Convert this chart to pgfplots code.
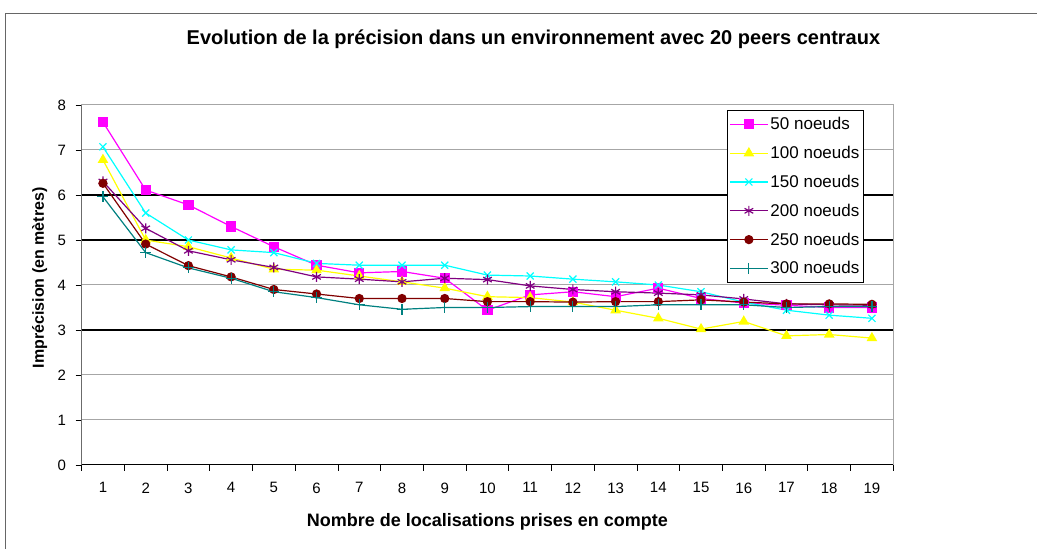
\documentclass[border=0pt]{standalone}
\usepackage{pgfplots}
\pgfplotsset{compat=1.18}
\usepackage{fontspec}
\setmainfont{Liberation Sans}
\definecolor{cmag}{HTML}{FF00FF}
\definecolor{cyel}{HTML}{FFFF00}
\definecolor{ccya}{HTML}{00FFFF}
\definecolor{cpur}{HTML}{800080}
\definecolor{cred}{HTML}{800000}
\definecolor{ctea}{HTML}{008080}
\begin{document}
\begin{tikzpicture}
\useasboundingbox (0pt,0pt) rectangle (1037pt,549pt);
\draw[line width=1pt, gray!80!black] (5pt,0pt) -- (5pt,535pt) -- (1037pt,535pt);
\begin{axis}[
  at={(81.6pt,84pt)}, anchor=south west,
  x=42.72pt, y=45pt,
  xmin=0.5, xmax=19.5, ymin=0, ymax=8,
  xtick={1,...,19},
  xtick style={draw=none},
  extra x ticks={0.5,1.5,...,19.5},
  extra x tick labels={},
  extra x tick style={xtick style={draw=black, line width=0.8pt}, major tick length=6pt, grid=none},
  ytick={0,1,...,8},
  ytick style={draw=black, line width=0.8pt},
  tick align=outside,
  tick pos=left,
  major tick length=6pt,
  ymajorgrids,
  grid style={gray!70, line width=1pt},
  axis line style={draw=gray!70, line width=1pt},
  tick label style={font=\fontsize{15}{18}\selectfont},
  xticklabel style={yshift=-8pt},
  yticklabel style={xshift=-6pt},
  /pgf/number format/assume math mode=true,
  title={Evolution de la précision dans un environnement avec 20 peers centraux},
  title style={font=\bfseries\fontsize{20}{24}\selectfont, at={(axis description cs:0.5,1)}, anchor=center, xshift=46pt, yshift=60pt},
  xlabel={Nombre de localisations prises en compte},
  xlabel style={font=\bfseries\fontsize{18}{21}\selectfont, at={(axis description cs:0.5,0)}, anchor=center, yshift=-57pt},
  ylabel={Imprécision (en mètres)},
  ylabel style={font=\bfseries\fontsize{16}{19}\selectfont, at={(axis description cs:-0.0517,0.52)}, anchor=center, rotate=0},
  legend style={at={(rel axis cs:0.795,0.986)}, anchor=north west, draw=black, line width=0.8pt, fill=white,
    font=\fontsize{17}{20}\selectfont, row sep=11pt, inner xsep=2pt, inner ysep=5pt, legend cell align=left},
  legend image code/.code={\draw[line width=1.2pt, mark repeat=2,mark phase=2,#1] plot coordinates {(0pt,0pt) (19pt,0pt) (38pt,0pt)};},
  every axis plot/.append style={line width=1.2pt},
]
\draw[black, line width=1.4pt] (axis cs:0.5,6) -- (axis cs:19.5,6);
\draw[black, line width=1.4pt] (axis cs:0.5,5) -- (axis cs:19.5,5);
\draw[black, line width=1.4pt] (axis cs:0.5,3) -- (axis cs:19.5,3);
\addplot[color=cmag, mark=square*, mark size=4.5pt, mark options={solid, fill=cmag}] coordinates {
(1,7.62) (2,6.11) (3,5.78) (4,5.30) (5,4.85) (6,4.44) (7,4.27) (8,4.30) (9,4.15) (10,3.44)
(11,3.78) (12,3.85) (13,3.74) (14,3.93) (15,3.70) (16,3.60) (17,3.55) (18,3.50) (19,3.50)};
\addlegendentry{50 noeuds}
\addplot[color=cyel, mark=triangle*, mark size=5pt, mark options={solid, fill=cyel}] coordinates {
(1,6.78) (2,5.00) (3,4.85) (4,4.60) (5,4.35) (6,4.33) (7,4.20) (8,4.07) (9,3.93) (10,3.74)
(11,3.72) (12,3.62) (13,3.44) (14,3.26) (15,3.02) (16,3.19) (17,2.87) (18,2.90) (19,2.82)};
\addlegendentry{100 noeuds}
\addplot[color=ccya, mark=x, mark size=5pt, mark options={solid}] coordinates {
(1,7.07) (2,5.60) (3,5.00) (4,4.78) (5,4.72) (6,4.48) (7,4.44) (8,4.44) (9,4.44) (10,4.22)
(11,4.20) (12,4.13) (13,4.07) (14,4.00) (15,3.85) (16,3.62) (17,3.44) (18,3.33) (19,3.26)};
\addlegendentry{150 noeuds}
\addplot[color=cpur, mark=asterisk, mark size=5pt, mark options={solid}] coordinates {
(1,6.30) (2,5.26) (3,4.76) (4,4.56) (5,4.39) (6,4.18) (7,4.13) (8,4.07) (9,4.15) (10,4.12)
(11,3.98) (12,3.90) (13,3.85) (14,3.82) (15,3.78) (16,3.69) (17,3.58) (18,3.56) (19,3.55)};
\addlegendentry{200 noeuds}
\addplot[color=cred, mark=*, mark size=4pt, mark options={solid, fill=cred}] coordinates {
(1,6.26) (2,4.91) (3,4.43) (4,4.18) (5,3.90) (6,3.80) (7,3.70) (8,3.70) (9,3.70) (10,3.63)
(11,3.63) (12,3.62) (13,3.63) (14,3.63) (15,3.67) (16,3.62) (17,3.58) (18,3.58) (19,3.57)};
\addlegendentry{250 noeuds}
\addplot[color=ctea, mark=+, mark size=5.5pt, mark options={solid}] coordinates {
(1,5.96) (2,4.72) (3,4.38) (4,4.15) (5,3.85) (6,3.72) (7,3.56) (8,3.46) (9,3.50) (10,3.50)
(11,3.52) (12,3.52) (13,3.52) (14,3.56) (15,3.56) (16,3.56) (17,3.50) (18,3.52) (19,3.52)};
\addlegendentry{300 noeuds}
\draw[black, line width=1.4pt] (axis cs:0.5,0) -- (axis cs:19.5,0);
\draw[black, line width=1pt] (axis cs:0.5,0) -- (axis cs:0.5,8);
\end{axis}
\end{tikzpicture}
\end{document}
